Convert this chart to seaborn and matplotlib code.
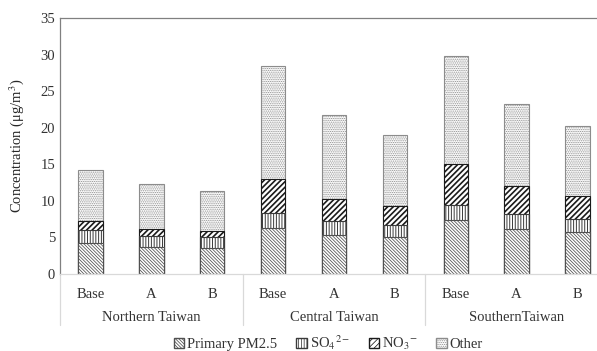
import seaborn as sns
import matplotlib.pyplot as plt
import matplotlib.transforms as mtransforms
from matplotlib.patches import Patch
import pandas as pd

regions = ['Northern Taiwan', 'Central Taiwan', 'SouthernTaiwan']
scenarios = ['Base', 'A', 'B']
primary = [4.2, 3.75, 3.5, 6.35, 5.3, 5.0, 7.4, 6.1, 5.7]
so4 = [1.8, 1.4, 1.5, 1.95, 1.95, 1.75, 2.1, 2.1, 1.8]
no3 = [1.25, 1.05, 0.85, 4.65, 2.95, 2.55, 5.6, 3.8, 3.2]
other = [6.95, 6.1, 5.55, 15.45, 11.6, 9.7, 14.75, 11.3, 9.6]

sns.set_style("white")
plt.rcParams['font.family'] = ['Liberation Serif', 'DejaVu Serif']
plt.rcParams['mathtext.fontset'] = 'stix'

keys = [f'{r}|{s}' for r in regions for s in scenarios]
data = pd.DataFrame({'key': keys, 'Primary': primary, 'SO4': so4, 'NO3': no3, 'Other': other})
data['c1'] = data['Primary']
data['c2'] = data['c1'] + data['SO4']
data['c3'] = data['c2'] + data['NO3']
data['c4'] = data['c3'] + data['Other']

fig = plt.figure(figsize=(5.97, 3.51), dpi=100)
ax = fig.add_axes([60 / 597, 77 / 351, 548 / 597, 256 / 351])

# stacked look: draw cumulative totals, tallest first
layers = [
    ('c4', '.' * 9, '#8c8c8c', 0.6, 'Other'),
    ('c3', '/' * 6, '#1a1a1a', 1.2, r'NO$_3$$^{-}$'),
    ('c2', '|' * 6, '#3a3a3a', 0.7, r'SO$_4$$^{2-}$'),
    ('c1', '\\' * 10, '#505050', 0.55, 'Primary PM2.5'),
]
handles = []
for col, hatch, col_h, lw, label in layers:
    plt.rcParams['hatch.linewidth'] = lw
    sns.barplot(data=data, x='key', y=col, order=keys, color='white', width=0.4,
                edgecolor=col_h, linewidth=0.8, hatch=hatch, ax=ax)
    handles.append(Patch(facecolor='white', edgecolor=col_h, hatch=hatch, label=label))

ax.set_ylim(0, 35)
ax.set_yticks(range(0, 36, 5))
ax.set_xlim(-0.5, 8.5)
ax.set_xticks(range(9))
ax.set_xticklabels(scenarios * 3)
ax.set_xlabel('')
ax.set_ylabel('Concentration (μg/m$^3$)', fontsize=10.5)
ax.tick_params(axis='both', labelsize=10.5, length=0, colors='#333333')
ax.tick_params(axis='x', pad=10)
ax.yaxis.set_label_coords(-0.062, 0.5)

for s in ['left', 'top', 'right']:
    ax.spines[s].set_color('#808080')
    ax.spines[s].set_linewidth(0.9)
ax.spines['bottom'].set_color('#d9d9d9')
ax.spines['bottom'].set_linewidth(0.9)

trans = mtransforms.blended_transform_factory(ax.transData, ax.transAxes)
for xs in [-0.5, 2.5, 5.5, 8.5]:
    ax.plot([xs, xs], [0, -0.2], transform=trans, color='#d9d9d9', lw=0.9, clip_on=False)
for i, r in enumerate(regions):
    ax.text(3 * i + 1, -0.168, r, transform=trans, ha='center', va='center',
            fontsize=10.5, color='#333333')

handles = handles[::-1]
ax.legend(handles=handles, loc='center', bbox_to_anchor=(0.49, -0.27), ncol=4,
          frameon=False, fontsize=10.5, handlelength=0.7, handleheight=0.7,
          handletextpad=0.2, columnspacing=1.3, labelcolor='#333333')

plt.savefig('out.png', dpi=100)
